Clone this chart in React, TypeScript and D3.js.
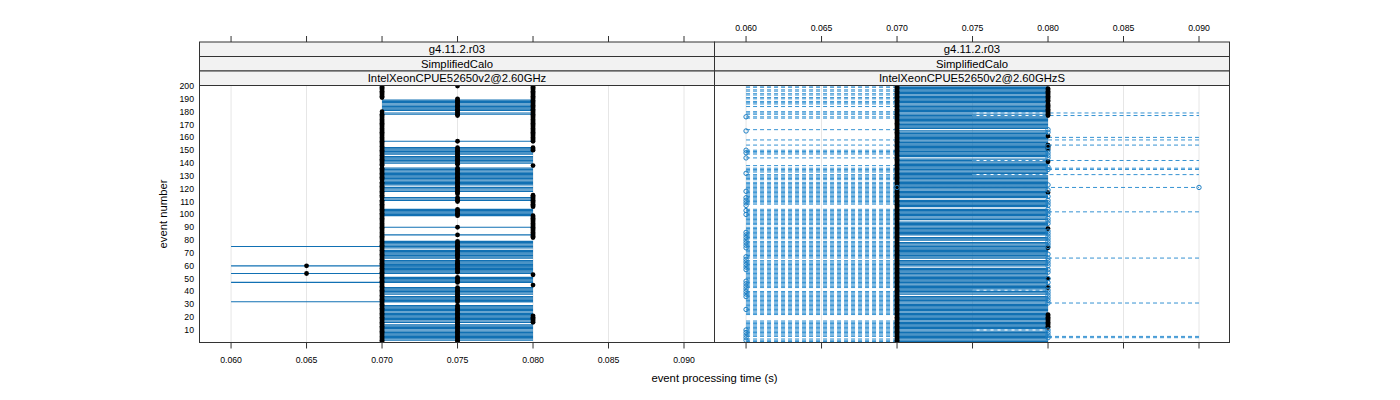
import React from "react";
import * as d3 from "d3";

type R = number | [number, number];

// ---------- DATA ----------
const xTicks = [0.06, 0.065, 0.07, 0.075, 0.08, 0.085, 0.09];
const yTicks = [10, 20, 30, 40, 50, 60, 70, 80, 90, 100, 110, 120, 130, 140, 150, 160, 170, 180, 190, 200];
const stripRelease = ["g4.11.2.r03", "g4.11.2.r03"];
const stripTest = ["SimplifiedCalo", "SimplifiedCalo"];
const stripMachine = ["IntelXeonCPUE52650v2@2.60GHz", "IntelXeonCPUE52650v2@2.60GHzS"];

// Left panel (2.60GHz): measured times per event (black points)
const leftPts065: R[] = [54, 60];
const leftPts070: R[] = [[1, 111], [113, 125], [127, 136], [138, 178], 180, [191, 200]];
const leftPts075: R[] = [[1, 29], [32, 43], [47, 51], [55, 64], [66, 79], 84, 90, [99, 104], [110, 113], [116, 136], [139, 152], 157, [177, 190], 200];
const leftPts080: R[] = [[16, 21], 45, 53, [82, 99], [106, 115], 138, [150, 152], [157, 200]];
// Left panel: solid ranges
const leftLine070to080: R[] = [[2, 14], [16, 29], [32, 36], [38, 43], [47, 51], [55, 64], [66, 72], [74, 79], 84, 90, [99, 104], [111, 113], [118, 121], [123, 136], [140, 145], [147, 152], 157, 178, 179, [181, 189]];
const leftLine060to080: R[] = [32, 47, 54, 60, 75];

// Right panel (2.60GHzS)
const rightPts070: R[] = [[1, 200]];
const rightPts080: R[] = [[12, 22], 43, 50, 74, 89, 117, 141, [151, 154], 161, [177, 186], [188, 198]];
const rightCirc060: R[] = [2, 4, 6, 8, 10, 26, 36, 38, 40, 42, 44, 46, 48, 57, 59, 61, 63, 65, 67, 74, 76, 78, 80, 82, 84, 86, 100, 103, 107, 109, 111, 113, 118, 132, 144, 148, 150, 165, 176];
const rightCirc070: R[] = [121];
const rightCirc080: R[] = [4, 6, 8, 10, 31, 33, 35, 37, 39, 41, 44, 47, 50, 55, 57, 60, 62, 64, 66, 69, 75, 77, 79, 81, 83, 85, 87, 93, 95, 97, 100, 102, 104, 107, 109, 111, 114, 119, 123, 135, 137, 144, 146, 148, 150, 153, 164, 166];
const rightCirc090: R[] = [121];
const rightSolid070to080: R[] = [[1, 9], [11, 36], [38, 40], [42, 58], [60, 64], [66, 78], [80, 82], [84, 94], [96, 104], [106, 111], [113, 130], [132, 141], 143, [145, 165], [167, 176], 178, [180, 200]];
const rightSolid070to075: R[] = [10, 41, 131, 142, 177, 179];
const rightDash060to070: R[] = [[1, 3], [5, 17], [22, 40], [43, 64], [66, 79], [81, 90], [92, 104], [108, 125], [127, 131], [133, 136], 138, 144, [147, 150], 154, 158, 166, 175, 176, [178, 180], 184, [186, 188], [190, 191], [193, 194], [196, 197], [199, 200]];
const rightDash070to090: R[] = [121];
const rightDash080to090: R[] = [4, 5, 31, 66, 102, 135, 136, 154, 158, 160];
const rightDash075to090: R[] = [131, 142, 177, 179];
const rightDash075to080: R[] = [10, 41];

// ---------- HELPERS ----------
const expand = (list: R[]): number[] =>
  list.flatMap((r) => (Array.isArray(r) ? d3.range(r[0], r[1] + 1) : [r]));

const W = 1400;
const H = 400;
const panelW = 515;
const panelX0 = [199.5, 714.5];
const panelTop = 85.5;
const panelBottom = 342.5;
const stripTop = 42;
const stripH = (panelTop - stripTop) / 3;
const FONT = "'Liberation Sans', Arial, Helvetica, sans-serif";
const SOLID = "#1170b3";
const DASHED = "#3592d2";
const CIRC = "#1f80c4";

const yScale = d3.scaleLinear().domain([0.25, 200.4]).range([panelBottom, panelTop]);
const xScaleFor = (i: number) =>
  d3.scaleLinear().domain([0.05791, 0.09202]).range([panelX0[i], panelX0[i] + panelW]);

type Seg = { events: R[]; lo: number; hi: number };

function Segs({ x, segs, dashed }: { x: d3.ScaleLinear<number, number>; segs: Seg[]; dashed?: boolean }) {
  return (
    <g
      stroke={dashed ? DASHED : SOLID}
      strokeWidth={dashed ? 1 : 1.2}
      strokeDasharray={dashed ? "4,3" : undefined}
      fill="none"
    >
      {segs.flatMap((s, k) =>
        expand(s.events).map((e) => (
          <line key={k + "-" + e} x1={x(s.lo)} x2={x(s.hi)} y1={yScale(e)} y2={yScale(e)} />
        ))
      )}
    </g>
  );
}

function Pts({ x, events, t, open }: { x: d3.ScaleLinear<number, number>; events: R[]; t: number; open?: boolean }) {
  return (
    <g>
      {expand(events).map((e) => (
        <circle
          key={e}
          cx={x(t)}
          cy={yScale(e)}
          r={open ? 2.2 : 2.4}
          fill={open ? "none" : "#000"}
          stroke={open ? CIRC : "none"}
          strokeWidth={1}
        />
      ))}
    </g>
  );
}

export default function App() {
  const xs = [xScaleFor(0), xScaleFor(1)];
  return (
    <svg
      width={W}
      height={H}
      style={{ position: "absolute", left: 0, top: 0, background: "#fff" }}
      fontFamily={FONT}
    >
      <defs>
        {xs.map((x, i) => (
          <clipPath id={"clip" + i} key={i}>
            <rect x={panelX0[i]} y={panelTop} width={panelW} height={panelBottom - panelTop} />
          </clipPath>
        ))}
      </defs>

      {xs.map((x, i) => (
        <g key={"p" + i}>
          {/* grid */}
          {xTicks.map((t) => (
            <line key={t} x1={x(t)} x2={x(t)} y1={panelTop} y2={panelBottom} stroke="#e6e6e6" strokeWidth={1} />
          ))}
          {/* strips */}
          {[stripRelease[i], stripTest[i], stripMachine[i]].map((label, j) => (
            <g key={j}>
              <rect
                x={panelX0[i]}
                y={stripTop + j * stripH}
                width={panelW}
                height={stripH}
                fill="#f2f2f2"
                stroke="#333"
                strokeWidth={1}
              />
              <text
                x={panelX0[i] + panelW / 2}
                y={stripTop + j * stripH + stripH / 2 + 4}
                textAnchor="middle"
                fontSize={11.3}
                fill="#000"
              >
                {label}
              </text>
            </g>
          ))}
          {/* top ticks */}
          {xTicks.map((t) => (
            <line key={"tt" + t} x1={x(t)} x2={x(t)} y1={stripTop - 6} y2={stripTop} stroke="#333" strokeWidth={1} />
          ))}
          {/* bottom ticks */}
          {xTicks.map((t) => (
            <line key={"bt" + t} x1={x(t)} x2={x(t)} y1={panelBottom} y2={panelBottom + 6} stroke="#333" strokeWidth={1} />
          ))}
          {i === 0 &&
            xTicks.map((t) => (
              <text key={"bl" + t} x={x(t)} y={363} textAnchor="middle" fontSize={8.7} fill="#000">
                {d3.format(".3f")(t)}
              </text>
            ))}
          {i === 1 &&
            xTicks.map((t) => (
              <text key={"tl" + t} x={x(t)} y={31} textAnchor="middle" fontSize={8.7} fill="#000">
                {d3.format(".3f")(t)}
              </text>
            ))}
        </g>
      ))}

      {/* left panel data */}
      <g clipPath="url(#clip0)">
        <Segs
          x={xs[0]}
          segs={[
            { events: leftLine070to080, lo: 0.07, hi: 0.08 },
            { events: leftLine060to080, lo: 0.06, hi: 0.08 },
          ]}
        />
        <Pts x={xs[0]} events={leftPts065} t={0.065} />
        <Pts x={xs[0]} events={leftPts070} t={0.07} />
        <Pts x={xs[0]} events={leftPts075} t={0.075} />
        <Pts x={xs[0]} events={leftPts080} t={0.08} />
      </g>

      {/* right panel data */}
      <g clipPath="url(#clip1)">
        <Segs
          x={xs[1]}
          dashed
          segs={[
            { events: rightDash060to070, lo: 0.06, hi: 0.07 },
            { events: rightDash070to090, lo: 0.07, hi: 0.09 },
            { events: rightDash080to090, lo: 0.08, hi: 0.09 },
            { events: rightDash075to090, lo: 0.075, hi: 0.09 },
            { events: rightDash075to080, lo: 0.075, hi: 0.08 },
          ]}
        />
        <Segs
          x={xs[1]}
          segs={[
            { events: rightSolid070to080, lo: 0.07, hi: 0.08 },
            { events: rightSolid070to075, lo: 0.07, hi: 0.075 },
          ]}
        />
        <Pts x={xs[1]} events={rightPts070} t={0.07} />
        <Pts x={xs[1]} events={rightPts080} t={0.08} />
        <Pts x={xs[1]} events={rightCirc060} t={0.06} open />
        <Pts x={xs[1]} events={rightCirc070} t={0.07} open />
        <Pts x={xs[1]} events={rightCirc080} t={0.08} open />
        <Pts x={xs[1]} events={rightCirc090} t={0.09} open />
      </g>

      {/* panel borders */}
      {xs.map((x, i) => (
        <rect
          key={"b" + i}
          x={panelX0[i]}
          y={panelTop}
          width={panelW}
          height={panelBottom - panelTop}
          fill="none"
          stroke="#333"
          strokeWidth={1}
        />
      ))}

      {/* y axis labels */}
      {yTicks.map((t) => (
        <text key={"y" + t} x={194} y={yScale(t) + 3} textAnchor="end" fontSize={8.7} fill="#000">
          {t}
        </text>
      ))}

      {/* titles */}
      <text x={(panelX0[0] + panelX0[1] + panelW) / 2} y={382} textAnchor="middle" fontSize={11.3} fill="#000">
        event processing time (s)
      </text>
      <text
        transform={`translate(167, ${(panelTop + panelBottom) / 2}) rotate(-90)`}
        textAnchor="middle"
        fontSize={11.3}
        fill="#000"
      >
        event number
      </text>
    </svg>
  );
}
